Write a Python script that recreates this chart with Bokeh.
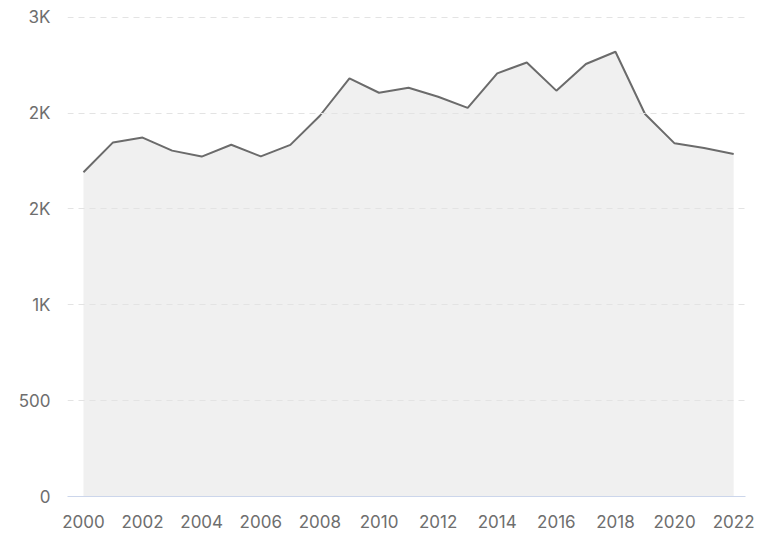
from bokeh.plotting import figure
from bokeh.models import FixedTicker, Range1d, ColumnDataSource
from bokeh.embed import file_html
from bokeh.resources import INLINE

years = list(range(2000, 2023))
values = [1691, 1847, 1872, 1804, 1773, 1835, 1774, 1834, 1986, 2181, 2106, 2132,
          2085, 2027, 2207, 2264, 2117, 2256, 2320, 1995, 1842, 1818, 1787]
x_ticks = list(range(2000, 2023, 2))
y_ticks = [0, 500, 1000, 1500, 2000, 2500]
y_labels = ["0", "500", "1K", "2K", "2K", "3K"]

src = ColumnDataSource(dict(x=years, y=values, base=[0] * len(years)))

p = figure(width=767, height=536, output_backend="svg", toolbar_location=None,
           x_range=Range1d(1999.46, 2022.4), y_range=Range1d(0, 2535),
           min_border_left=67, min_border_right=22, min_border_top=10, min_border_bottom=40)
p.outline_line_color = None
p.background_fill_color = "white"
p.border_fill_color = "white"

area = p.varea(x="x", y1="base", y2="y", source=src, fill_color="#f0f0f0")
area.level = "underlay"
p.line(x="x", y="y", source=src, line_color="#6b6b6b", line_width=2)

p.xaxis.ticker = FixedTicker(ticks=x_ticks)
p.yaxis.ticker = FixedTicker(ticks=y_ticks)
p.yaxis.major_label_overrides = {t: l for t, l in zip(y_ticks, y_labels)}

for ax in (p.xaxis, p.yaxis):
    ax.major_tick_line_color = None
    ax.minor_tick_line_color = None
    ax.major_label_text_color = "#6e6e6e"
    ax.major_label_text_font = "Inter"
    ax.major_label_text_font_size = "17px"
p.yaxis.axis_line_color = None
p.yaxis.major_label_standoff = 11
p.xaxis.axis_line_color = "#ccd6eb"
p.xaxis.axis_line_width = 1
p.xaxis.major_label_standoff = 12

p.xgrid.grid_line_color = None
p.ygrid.grid_line_color = "#e3e3e3"
p.ygrid.grid_line_dash = "6 5"
p.ygrid.grid_line_width = 1
p.ygrid.level = "glyph"

open("out.html", "w").write(file_html(p, INLINE))
